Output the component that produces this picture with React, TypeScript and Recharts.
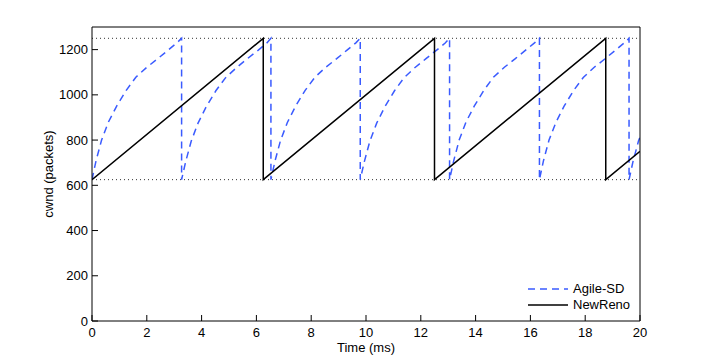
import { Line, LineChart, ReferenceLine, XAxis, YAxis } from "recharts";

// Agile-SD cwnd samples [time ms, packets]
const agileTime = [
  0, 0.15, 0.35, 0.6, 0.9, 1.25, 1.6, 2.0, 2.4, 2.8, 3.1, 3.27, 3.27,
  3.42, 3.62, 3.87, 4.17, 4.52, 4.87, 5.27, 5.67, 6.07, 6.37, 6.53, 6.53,
  6.68, 6.88, 7.13, 7.43, 7.78, 8.13, 8.53, 8.93, 9.33, 9.63, 9.79, 9.79,
  9.94, 10.14, 10.39, 10.69, 11.04, 11.39, 11.79, 12.19, 12.59, 12.89, 13.05, 13.05,
  13.2, 13.4, 13.65, 13.95, 14.3, 14.65, 15.05, 15.45, 15.85, 16.15, 16.33, 16.33,
  16.48, 16.68, 16.93, 17.23, 17.58, 17.93, 18.33, 18.73, 19.13, 19.43, 19.6, 19.6,
  19.75, 19.95, 20,
];
const agileCwnd = [
  625, 710, 800, 880, 950, 1020, 1078, 1122, 1160, 1200, 1230, 1250, 625,
  705, 795, 875, 948, 1018, 1075, 1120, 1160, 1198, 1228, 1250, 625,
  708, 798, 878, 950, 1020, 1077, 1122, 1160, 1200, 1230, 1250, 625,
  705, 795, 875, 948, 1018, 1076, 1121, 1160, 1199, 1229, 1250, 625,
  708, 800, 880, 950, 1020, 1078, 1122, 1160, 1200, 1230, 1250, 625,
  710, 800, 878, 950, 1020, 1077, 1122, 1160, 1200, 1230, 1250, 625,
  708, 798, 812,
];

// NewReno sawtooth corners
const renoTime = [0, 6.25, 6.25, 12.5, 12.5, 18.75, 18.75, 20];
const renoCwnd = [625, 1250, 625, 1250, 625, 1250, 625, 750];

const xTicks = [0, 2, 4, 6, 8, 10, 12, 14, 16, 18, 20];
const yTicks = [0, 200, 400, 600, 800, 1000, 1200];
const maxCwnd = 1250;
const halfCwnd = 625;

const agileData = agileTime.map((t, i) => ({ t, v: agileCwnd[i] }));
const renoData = renoTime.map((t, i) => ({ t, v: renoCwnd[i] }));

const font = "'Liberation Sans', Arial, Helvetica, sans-serif";
const blue = "#3a5bff";

const BottomTick = ({ x, y, payload }: any) => (
  <g>
    <line x1={x} x2={x} y1={y} y2={y - 6} stroke="#000" strokeWidth={1} />
    <text x={x} y={y + 16} textAnchor="middle" fontFamily={font} fontSize={13} fill="#000">{payload.value}</text>
  </g>
);

const LeftTick = ({ x, y, payload }: any) => (
  <g>
    <line x1={x} x2={x + 6} y1={y} y2={y} stroke="#000" strokeWidth={1} />
    <text x={x - 4} y={y} dy="0.35em" textAnchor="end" fontFamily={font} fontSize={13} fill="#000">{payload.value}</text>
  </g>
);

const TopTick = ({ x, y }: any) => <line x1={x} x2={x} y1={y} y2={y + 6} stroke="#000" strokeWidth={1} />;
const RightTick = ({ x, y }: any) => <line x1={x} x2={x - 6} y1={y} y2={y} stroke="#000" strokeWidth={1} />;

const legendItems = [
  { name: "Agile-SD", color: blue, dash: "7 5" },
  { name: "NewReno", color: "#000", dash: undefined },
];

export default function App() {
  return (
    <div style={{ position: "absolute", left: 0, top: 0, width: 706, height: 362, background: "#fff" }}>
      <LineChart width={706} height={362} margin={{ top: 0, right: 0, left: 0, bottom: 0 }}>
        <XAxis
          dataKey="t"
          type="number"
          domain={[0, 20]}
          ticks={xTicks}
          allowDataOverflow
          height={41}
          tickSize={0}
          tickMargin={0}
          tickLine={false}
          axisLine={{ stroke: "#000" }}
          tick={BottomTick}
          label={{ value: "Time (ms)", position: "insideBottom", offset: 10, style: { fontFamily: font, fontSize: 13, fill: "#000" } }}
        />
        <XAxis
          xAxisId="top"
          orientation="top"
          type="number"
          domain={[0, 20]}
          ticks={xTicks}
          height={27}
          tickSize={0}
          tickMargin={0}
          tickLine={false}
          axisLine={{ stroke: "#000" }}
          tick={TopTick}
        />
        <YAxis
          type="number"
          domain={[0, 1300]}
          ticks={yTicks}
          width={92}
          tickSize={0}
          tickMargin={0}
          tickLine={false}
          axisLine={{ stroke: "#000" }}
          tick={LeftTick}
          label={{ value: "cwnd (packets)", angle: -90, position: "center", dx: 2, style: { fontFamily: font, fontSize: 13, fill: "#000" } }}
        />
        <YAxis
          yAxisId="right"
          orientation="right"
          type="number"
          domain={[0, 1300]}
          ticks={yTicks}
          width={66}
          tickSize={0}
          tickMargin={0}
          tickLine={false}
          axisLine={{ stroke: "#000" }}
          tick={RightTick}
        />
        <ReferenceLine y={maxCwnd} stroke="#333" strokeDasharray="1 3" strokeWidth={1} />
        <ReferenceLine y={halfCwnd} stroke="#333" strokeDasharray="1 3" strokeWidth={1} />
        <Line
          data={agileData}
          dataKey="v"
          name="Agile-SD"
          type="linear"
          stroke={blue}
          strokeWidth={1.5}
          strokeDasharray="7 5"
          dot={false}
          activeDot={false}
          isAnimationActive={false}
        />
        <Line
          data={renoData}
          dataKey="v"
          name="NewReno"
          type="linear"
          stroke="#000"
          strokeWidth={1.5}
          dot={false}
          activeDot={false}
          isAnimationActive={false}
        />
      </LineChart>
      <div style={{ position: "absolute", left: 528, top: 281, fontFamily: font, fontSize: 13, color: "#000", lineHeight: "16px" }}>
        {legendItems.map((item) => (
          <div key={item.name} style={{ display: "flex", alignItems: "center", height: 16 }}>
            <svg width={40} height={16} style={{ display: "block" }}>
              <line x1={0} x2={40} y1={8} y2={8} stroke={item.color} strokeWidth={1.5} strokeDasharray={item.dash} />
            </svg>
            <span style={{ marginLeft: 5 }}>{item.name}</span>
          </div>
        ))}
      </div>
    </div>
  );
}
